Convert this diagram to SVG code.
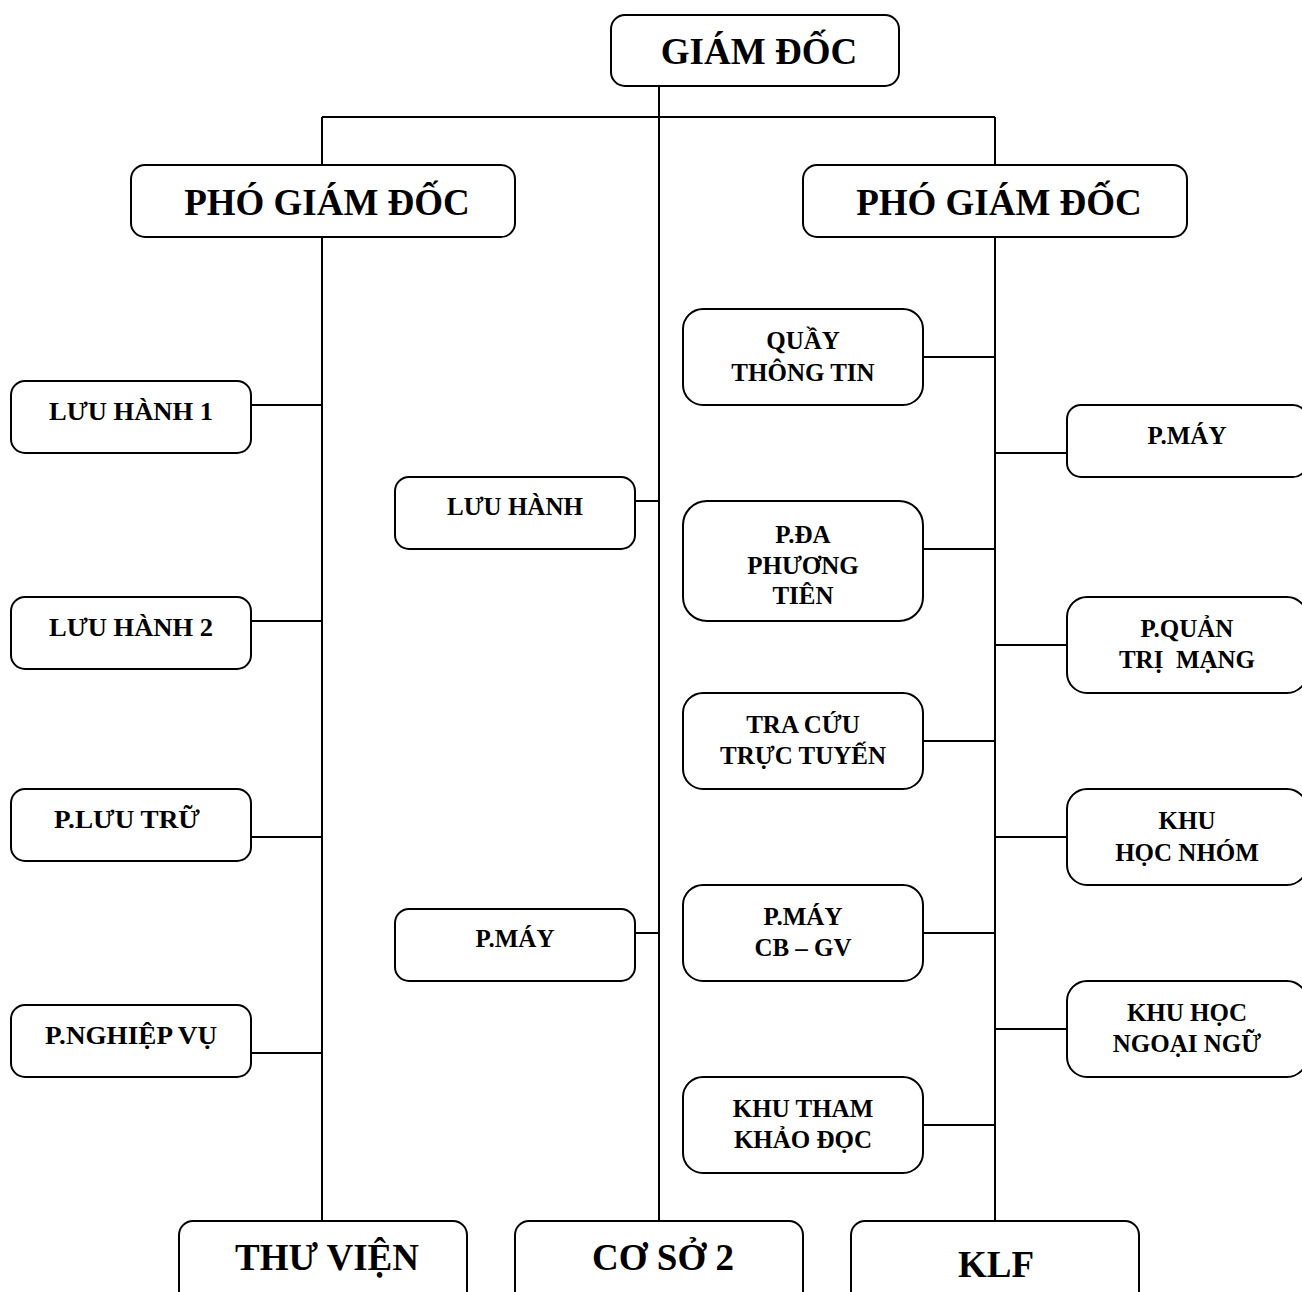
<svg xmlns="http://www.w3.org/2000/svg" width="1302" height="1292" viewBox="0 0 1302 1292">
<style>
.box{fill:#fff;stroke:#000;stroke-width:2}
.ln{stroke:#000;stroke-width:2;fill:none}
text{font-family:"Liberation Serif","Times New Roman",serif;font-weight:700;fill:#000;text-anchor:middle;white-space:pre}
.big{font-size:37px}
.sm{font-size:25px}
</style>
<rect width="1302" height="1292" fill="#fff"/>
<g id="connectors" class="ln">
<path d="M659 86V1222"/>
<path d="M322 117H995"/>
<path d="M322 117V165M322 237V1222"/>
<path d="M995 117V165M995 237V1222"/>
<path d="M251 405H322M251 621H322M251 837H322M251 1053H322"/>
<path d="M635 501H659M635 933H659"/>
<path d="M923 357H995M923 549H995M923 741H995M923 933H995M923 1125H995"/>
<path d="M995 453H1067M995 645H1067M995 837H1067M995 1029H1067"/>
</g>
<g id="giamdoc"><rect class="box" x="611" y="15" width="288" height="71" rx="14"/><text class="big" x="759" y="64">GIÁM ĐỐC</text></g>
<g id="pgd1"><rect class="box" x="131" y="165" width="384" height="72" rx="14"/><text class="big" x="327" y="215">PHÓ GIÁM ĐỐC</text></g>
<g id="pgd2"><rect class="box" x="803" y="165" width="384" height="72" rx="14"/><text class="big" x="999" y="215">PHÓ GIÁM ĐỐC</text></g>
<g id="luuhanh1"><rect class="box" x="11" y="381" width="240" height="72" rx="14"/><text class="sm" x="131" y="420" textLength="164" lengthAdjust="spacingAndGlyphs">LƯU HÀNH 1</text></g>
<g id="luuhanh2"><rect class="box" x="11" y="597" width="240" height="72" rx="14"/><text class="sm" x="131" y="636" textLength="164" lengthAdjust="spacingAndGlyphs">LƯU HÀNH 2</text></g>
<g id="pluutru"><rect class="box" x="11" y="789" width="240" height="72" rx="14"/><text class="sm" x="127" y="828" textLength="146" lengthAdjust="spacingAndGlyphs">P.LƯU TRỮ</text></g>
<g id="pnghiepvu"><rect class="box" x="11" y="1005" width="240" height="72" rx="14"/><text class="sm" x="131" y="1044" textLength="172" lengthAdjust="spacingAndGlyphs">P.NGHIỆP VỤ</text></g>
<g id="luuhanh"><rect class="box" x="395" y="477" width="240" height="72" rx="14"/><text class="sm" x="515" y="515">LƯU HÀNH</text></g>
<g id="pmay-cs2"><rect class="box" x="395" y="909" width="240" height="72" rx="14"/><text class="sm" x="515" y="947">P.MÁY</text></g>
<g id="quay"><rect class="box" x="683" y="309" width="240" height="96" rx="20"/><text class="sm" x="803" y="349">QUẦY</text><text class="sm" x="803" y="381">THÔNG TIN</text></g>
<g id="pda"><rect class="box" x="683" y="501" width="240" height="120" rx="24"/><text class="sm" x="803" y="543">P.ĐA</text><text class="sm" x="803" y="574">PHƯƠNG</text><text class="sm" x="803" y="604">TIÊN</text></g>
<g id="tracuu"><rect class="box" x="683" y="693" width="240" height="96" rx="20"/><text class="sm" x="803" y="733">TRA CỨU</text><text class="sm" x="803" y="764">TRỰC TUYẾN</text></g>
<g id="pmaycb"><rect class="box" x="683" y="885" width="240" height="96" rx="20"/><text class="sm" x="803" y="925">P.MÁY</text><text class="sm" x="803" y="956">CB – GV</text></g>
<g id="khutham"><rect class="box" x="683" y="1077" width="240" height="96" rx="20"/><text class="sm" x="803" y="1117">KHU THAM</text><text class="sm" x="803" y="1148">KHẢO ĐỌC</text></g>
<g id="pmay-klf"><rect class="box" x="1067" y="405" width="240" height="72" rx="14"/><text class="sm" x="1187" y="444">P.MÁY</text></g>
<g id="pquantri"><rect class="box" x="1067" y="597" width="240" height="96" rx="20"/><text class="sm" x="1187" y="637">P.QUẢN</text><text class="sm" x="1187" y="668">TRỊ  MẠNG</text></g>
<g id="khuhocnhom"><rect class="box" x="1067" y="789" width="240" height="96" rx="20"/><text class="sm" x="1187" y="829">KHU</text><text class="sm" x="1187" y="861">HỌC NHÓM</text></g>
<g id="khungoaingu"><rect class="box" x="1067" y="981" width="240" height="96" rx="20"/><text class="sm" x="1187" y="1021">KHU HỌC</text><text class="sm" x="1187" y="1052">NGOẠI NGỮ</text></g>
<g id="thuvien"><rect class="box" x="179" y="1221" width="288" height="90" rx="14"/><text class="big" x="327" y="1270">THƯ VIỆN</text></g>
<g id="coso2"><rect class="box" x="515" y="1221" width="288" height="90" rx="14"/><text class="big" x="663" y="1270">CƠ SỞ 2</text></g>
<g id="klf"><rect class="box" x="851" y="1221" width="288" height="90" rx="14"/><text class="big" x="996" y="1277">KLF</text></g>
</svg>
